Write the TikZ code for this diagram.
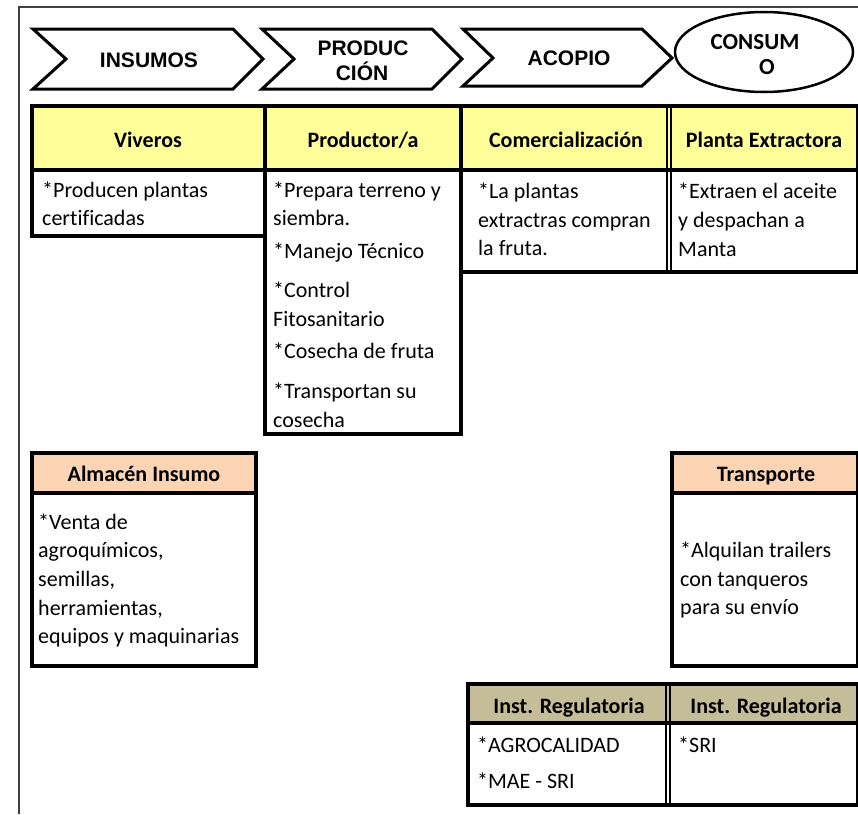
\documentclass[tikz,border=0pt]{standalone}
\usepackage{fontspec}
\newfontfamily\carl[Ligatures=NoCommon]{Carlito}
\newfontfamily\arialf{Liberation Sans}
\definecolor{hyellow}{HTML}{FFFF99}
\definecolor{hpeach}{HTML}{FBD4B4}
\definecolor{htan}{HTML}{C4BD97}
\definecolor{framegray}{HTML}{404040}
\tikzset{
  bodytxt/.style={font=\carl\fontsize{22}{26}\selectfont, anchor=base west, inner sep=0pt},
  headtxt/.style={font=\carl\bfseries\fontsize{22}{26}\selectfont, anchor=base, inner sep=0pt},
  chevtxt/.style={font=\arialf\bfseries\fontsize{21}{24}\selectfont, anchor=base, inner sep=0pt},
  constxt/.style={font=\carl\bfseries\fontsize{23}{26}\selectfont, anchor=base, inner sep=0pt},
  thick line/.style={line width=3.5pt, line cap=rect},
  thin line/.style={line width=2.2pt, line cap=rect},
  dbl line/.style={line width=1.3pt},
  chevshape/.style={line width=3pt, line join=miter},
}
\begin{document}
\begin{tikzpicture}[x=1pt,y=-1pt]
\useasboundingbox (0,0) rectangle (858,814);
% frame
\draw[framegray, line width=2pt] (19,814) -- (19,7) -- (860,7);
% chevrons
\draw[chevshape] (33,29) -- (233,29) -- (263,59) -- (233,89) -- (33,89) -- (66,59) -- cycle;
\draw[chevshape] (262,29) -- (432,29) -- (462,59) -- (432,89) -- (262,89) -- (294,59) -- cycle;
\draw[chevshape] (463,29) -- (642,29) -- (672,58) -- (642,86) -- (463,86) -- (493,58) -- cycle;
\draw[line width=2.5pt] (764,52) ellipse [x radius=89, y radius=40];
\node[chevtxt] (insumos) at (149,67) {INSUMOS};
\node[chevtxt] (prod1) at (363,55) {PRODUC};
\node[chevtxt] (prod2) at (362,80) {CIÓN};
\node[chevtxt] (acopio) at (569,65) {ACOPIO};
\node[constxt] (cons1) at (755,49) {CONSUM};
\node[constxt] (cons2) at (767,74) {O};
% ---------- top table fills
\fill[hyellow] (32,106) rectangle (857,170);
% borders
\draw[thick line] (32,106) -- (857,106);
\draw[line width=4pt] (32,170) -- (857,170);
\draw[thick line] (32,106) -- (32,236) -- (265,236);
\draw[line width=4pt] (265,106) -- (265,434) -- (461,434) -- (461,106);
\draw[thick line] (461,272) -- (857,272);
\draw[thin line] (857,106) -- (857,272);
\draw[dbl line] (667,106) -- (667,272);
\draw[dbl line] (671,106) -- (671,272);
% headers
\node[headtxt] (viv) at (148,147) {Viveros};
\node[headtxt] (prodh) at (363,147) {Productor/a};
\node[headtxt] (comh) at (566,147) {Comercialización};
\node[headtxt] (plah) at (764,147) {Planta Extractora};
% body texts
\node[bodytxt] (v1) at (42,197) {*Producen plantas};
\node[bodytxt] (v2) at (42,225) {certificadas};
\node[bodytxt] (p1) at (273,197) {*Prepara terreno y};
\node[bodytxt] (p2) at (273,225) {siembra.};
\node[bodytxt] (p3) at (273,258) {*Manejo Técnico};
\node[bodytxt] (p4) at (273,297) {*Control};
\node[bodytxt] (p5) at (273,326) {Fitosanitario};
\node[bodytxt] (p6) at (273,358) {*Cosecha de fruta};
\node[bodytxt] (p7) at (273,398) {*Transportan su};
\node[bodytxt] (p8) at (273,427) {cosecha};
\node[bodytxt] (c1) at (478,198) {*La plantas};
\node[bodytxt] (c2) at (478,227) {extractras compran};
\node[bodytxt] (c3) at (478,255) {la fruta.};
\node[bodytxt] (e1) at (678,198) {*Extraen el aceite};
\node[bodytxt] (e2) at (678,227) {y despachan a};
\node[bodytxt] (e3) at (678,256) {Manta};
% ---------- Almacen Insumo
\fill[hpeach] (32,453) rectangle (256,493);
\draw[thick line] (32,453) rectangle (256,666);
\draw[thick line] (32,493) -- (256,493);
\node[headtxt] (almh) at (144,481) {Almacén Insumo};
\node[bodytxt] (a1) at (38,529) {*Venta de};
\node[bodytxt] (a2) at (38,557) {agroquímicos,};
\node[bodytxt] (a3) at (38,586) {semillas,};
\node[bodytxt] (a4) at (38,615) {herramientas,};
\node[bodytxt] (a5) at (38,643) {equipos y maquinarias};
% ---------- Transporte
\fill[hpeach] (672,453) rectangle (857,493);
\draw[thick line] (857,453) -- (672,453) -- (672,666) -- (857,666);
\draw[thin line] (857,453) -- (857,666);
\draw[thick line] (672,493) -- (857,493);
\node[headtxt] (trah) at (766,481) {Transporte};
\node[bodytxt] (t1) at (680,557) {*Alquilan trailers};
\node[bodytxt] (t2) at (680,586) {con tanqueros};
\node[bodytxt] (t3) at (680,614) {para su envío};
% ---------- Inst. Regulatoria
\fill[htan] (468,684) rectangle (857,723);
\draw[thick line] (857,684) -- (468,684) -- (468,805) -- (857,805);
\draw[thin line] (857,684) -- (857,805);
\draw[thick line] (468,723) -- (857,723);
\draw[dbl line] (666,684) -- (666,805);
\draw[dbl line] (670,684) -- (670,805);
\node[headtxt] (ir1) at (569,713) {Inst. Regulatoria};
\node[headtxt] (ir2) at (766,713) {Inst. Regulatoria};
\node[bodytxt] (r1) at (477,752) {*AGROCALIDAD};
\node[bodytxt] (r2) at (477,788) {*MAE - SRI};
\node[bodytxt] (r3) at (678,752) {*SRI};
\end{tikzpicture}
\end{document}
